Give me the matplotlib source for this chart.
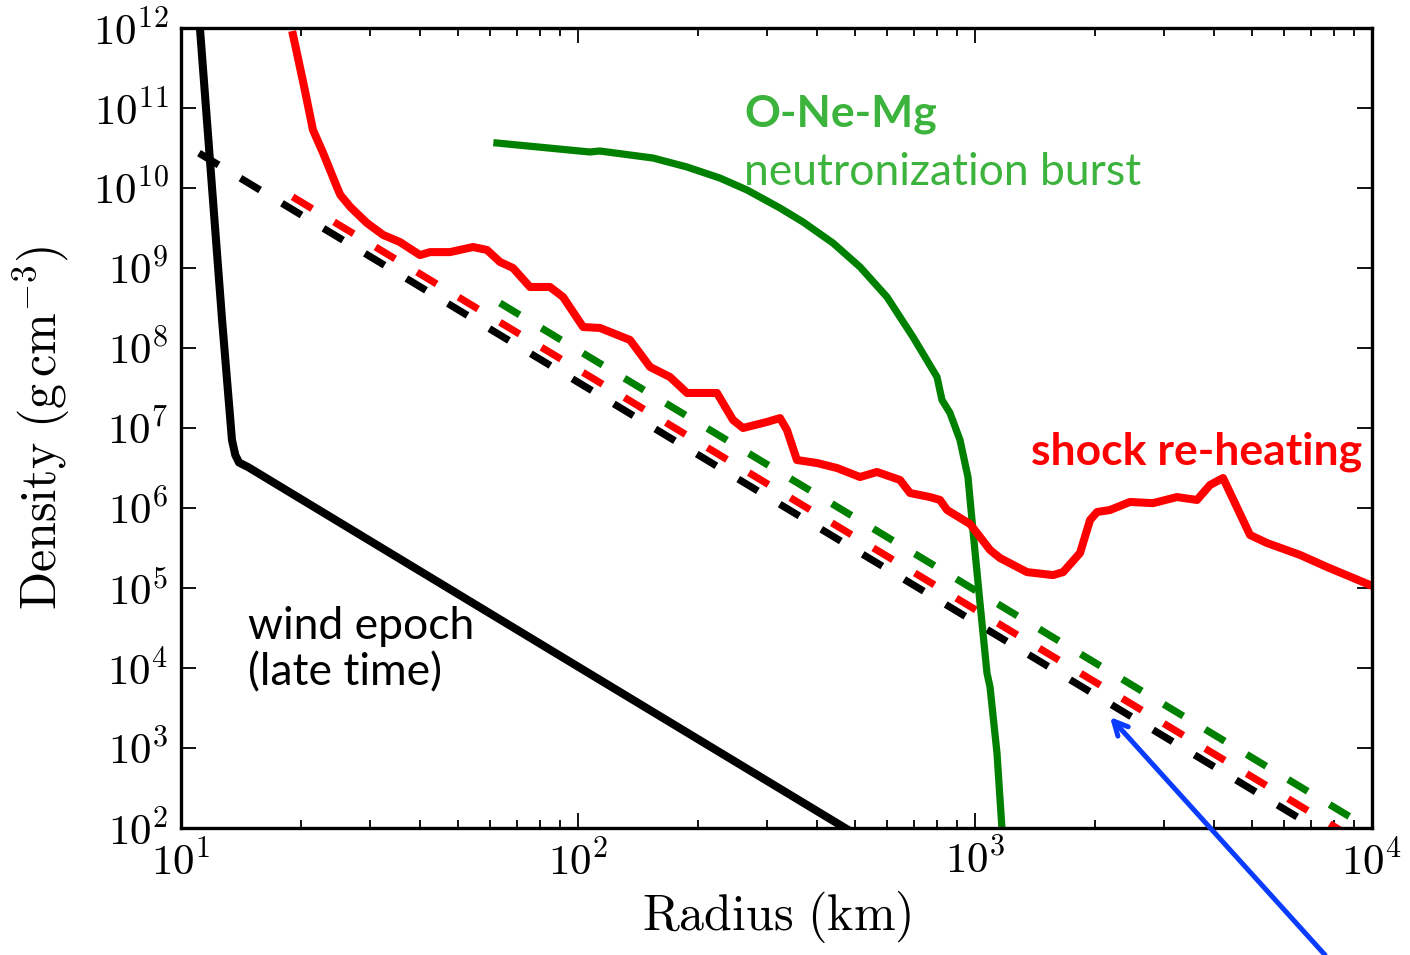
import matplotlib
matplotlib.use("Agg")
import matplotlib.pyplot as plt
import numpy as np

plt.rcParams['mathtext.fontset'] = 'cm'
plt.rcParams['lines.scale_dashes'] = False

# ---------------- data ----------------
# wind epoch (late time) -- black solid
wind_r = [11.16, 12.69, 13.44, 13.7, 14.0, 14.75, 100.0, 500.0]
wind_rho = [1.0e12, 2.24e8, 7.08e6, 4.6e6, 3.7e6, 3.25e6, 1.04e4, 83.4]

# shock re-heating -- red solid
shock_r = [19.15, 20.4, 21.5, 22.8, 24.7, 25.2, 26.7, 29.4, 32.3, 35.6, 40.0, 42.4, 47.6,
           54.4, 59.0, 63.6, 68.6, 75.7, 85.0, 91.7, 103, 113.6, 135.2, 151.9, 170.5,
           188.2, 223.9, 245.7, 260.4, 299.2, 322.7, 336, 356, 400, 449.2, 513.3,
           566.3, 647.4, 686, 770.3, 816.4, 850.5, 971.4, 1091, 1156, 1352, 1572,
           1667, 1839, 1949, 2030, 2188, 2457, 2808, 3227, 3624, 3908, 4215, 4929,
           5439, 6587, 7702, 9886]
shock_rho = [8.18e11, 1.9e11, 5.31e10, 2.74e10, 1.03e10, 8.18e9, 5.79e9, 3.65e9, 2.59e9,
             2.11e9, 1.45e9, 1.58e9, 1.58e9, 1.83e9, 1.68e9, 1.19e9, 1.0e9, 5.79e8,
             5.79e8, 4.34e8, 1.83e8, 1.78e8, 1.26e8, 5.79e7, 4.34e7, 2.74e7, 2.74e7,
             1.26e7, 1.0e7, 1.19e7, 1.33e7, 9.44e6, 3.98e6, 3.65e6, 3.16e6, 2.44e6,
             2.82e6, 2.24e6, 1.54e6, 1.37e6, 1.26e6, 9.44e5, 6.31e5, 2.99e5, 2.37e5,
             1.58e5, 1.45e5, 1.58e5, 2.74e5, 7.08e5, 8.91e5, 9.44e5, 1.19e6, 1.15e6,
             1.37e6, 1.26e6, 1.94e6, 2.37e6, 4.60e5, 3.65e5, 2.59e5, 1.83e5, 1.09e5]

# O-Ne-Mg neutronization burst -- green solid
burst_r = [62.5, 107, 113.5, 154.5, 188.2, 227.9, 266.6, 322.7, 368.8, 438.9, 513.3,
           600.2, 698.1, 802.2, 825.8, 865, 916.6, 960, 988, 1029.4, 1072, 1091,
           1136, 1169]
burst_rho = [3.65e10, 2.82e10, 2.90e10, 2.37e10, 1.83e10, 1.33e10, 9.44e9, 5.62e9,
             3.76e9, 2.05e9, 1.03e9, 4.34e8, 1.37e8, 4.34e7, 2.24e7, 1.54e7, 7.08e6,
             2.44e6, 5.31e5, 6.49e4, 8.66e3, 5.79e3, 866, 100]

# power-law (dashed) profiles
black_dash_r = [11.1, 1.0e4]
black_dash_rho = [2.73e10, 37.4]
red_dash_r = [19.1, 1.0e4]
red_dash_rho = [7.75e9, 54.0]
green_dash_r = [63.6, 1.0e4]
green_dash_rho = [3.65e8, 93.9]

x_ticks = [10, 100, 1000, 10000]
x_ticklabels = [r'$10^{1}$', r'$10^{2}$', r'$10^{3}$', r'$10^{4}$']
y_ticks = [1e2, 1e3, 1e4, 1e5, 1e6, 1e7, 1e8, 1e9, 1e10, 1e11, 1e12]
y_ticklabels = [r'$10^{%d}$' % k for k in range(2, 13)]

arrow_tip = (2188, 2440)
arrow_tail = (7614, 2.59)

# ---------------- figure ----------------
fig = plt.figure(figsize=(14.1, 9.55), dpi=100)
ax = fig.add_axes([181/1410, 1-828/955, (1372-181)/1410, (828-28)/955])
ax.set_xscale('log')
ax.set_yscale('log')
ax.set_xlim(10, 1e4)
ax.set_ylim(1e2, 1e12)

dash = (0, (16.5, 18.4))
ax.plot(black_dash_r, black_dash_rho, color='black', lw=5.2, linestyle=dash)
ax.plot(red_dash_r, red_dash_rho, color='red', lw=5.2, linestyle=dash)
ax.plot(green_dash_r, green_dash_rho, color='green', lw=5.2, linestyle=dash)

ax.plot(wind_r, wind_rho, color='black', lw=5.8, solid_joinstyle='round')
ax.plot(burst_r, burst_rho, color='green', lw=5.2, solid_joinstyle='round')
ax.plot(shock_r, shock_rho, color='red', lw=5.8, solid_joinstyle='round')

ax.set_xticks(x_ticks)
ax.set_xticklabels(x_ticklabels)
ax.set_yticks(y_ticks)
ax.set_yticklabels(y_ticklabels)
ax.tick_params(which='both', direction='in', top=True, right=True)
ax.tick_params(which='major', length=11, width=1.3, labelsize=31, pad=9)
ax.tick_params(which='minor', length=6, width=1.3)
for s in ax.spines.values():
    s.set_linewidth(2.4)

ax.set_xlabel(r'$\mathrm{Radius}\ (\mathrm{km})$', fontsize=36, labelpad=4)
ax.set_ylabel(r'$\mathrm{Density}\ (\mathrm{g\,cm^{-3}})$', fontsize=36, labelpad=14)

tf = ['Lato', 'DejaVu Sans']
fig.text(248/1410, 1-606/955, 'wind epoch\n(late time)', fontsize=32, family=tf,
         color='black', va='top', ha='left', linespacing=1.15)
fig.text(744/1410, 1-94/955, 'O-Ne-Mg', fontsize=32, family=tf, weight='bold',
         color='#3cb33c', va='top', ha='left')
fig.text(744/1410, 1-152/955, 'neutronization burst', fontsize=32, family=tf,
         color='#3cb33c', va='top', ha='left')
fig.text(1362/1410, 1-431/955, 'shock re-heating', fontsize=32, family=tf, weight='bold',
         color='red', va='top', ha='right')

ax.annotate('', xy=arrow_tip, xytext=arrow_tail, xycoords='data', textcoords='data',
            annotation_clip=False,
            arrowprops=dict(arrowstyle='->,head_length=1.0,head_width=0.5',
                            color='#0a3cff', lw=3.6, shrinkA=0, shrinkB=0))

fig.savefig('out.png', dpi=100)
